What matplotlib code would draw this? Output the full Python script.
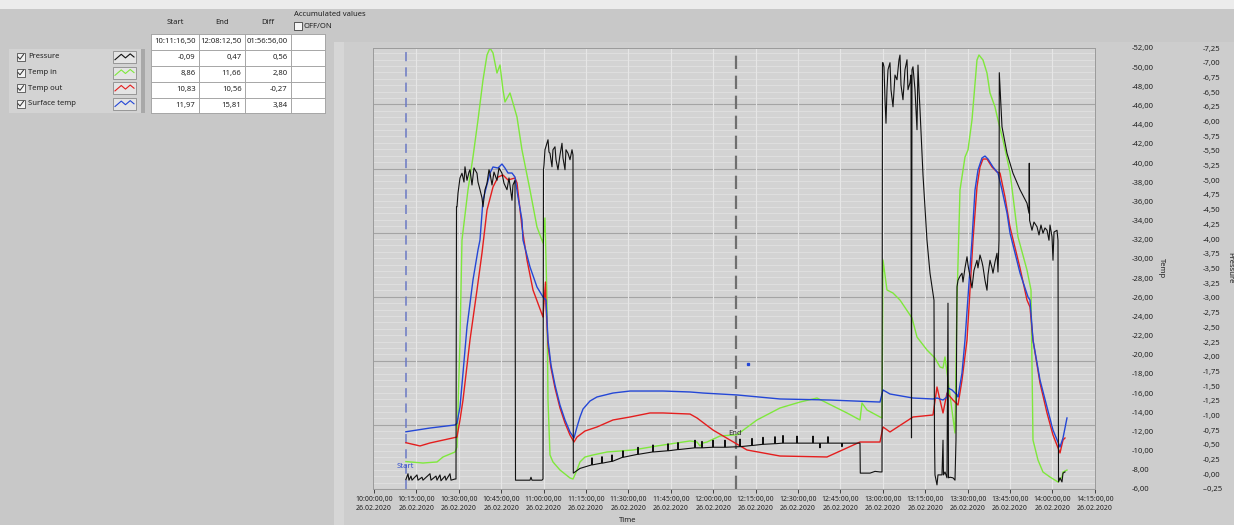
import numpy as np
import matplotlib
matplotlib.use("Agg")
import matplotlib.pyplot as plt
from matplotlib.patches import Rectangle

plt.rcParams['font.family'] = ['Noto Sans', 'DejaVu Sans']

# ---------------- data ----------------
x_tick_minutes = [0, 15, 30, 45, 60, 75, 90, 105, 120, 135, 150, 165, 180, 195, 210, 225, 240, 255]
x_tick_times = ["10:00:00,00", "10:15:00,00", "10:30:00,00", "10:45:00,00", "11:00:00,00",
                "11:15:00,00", "11:30:00,00", "11:45:00,00", "12:00:00,00", "12:15:00,00",
                "12:30:00,00", "12:45:00,00", "13:00:00,00", "13:15:00,00", "13:30:00,00",
                "13:45:00,00", "14:00:00,00", "14:15:00,00"]
x_tick_date = "26.02.2020"
temp_ticks = list(range(6, 53, 2))
pressure_ticks = [i * 0.25 - 0.25 for i in range(31)]

start_cursor_min = 11 + 16.5 / 60
end_cursor_min = 128 + 12.5 / 60

legend_names = ["Pressure", "Temp in", "Temp out", "Surface temp"]
table_header = ["Start", "End", "Diff"]
cursor_times = ["10:11:16,50", "12:08:12,50", "01:56:56,00"]
start_vals = ["-0,09", "8,86", "10,83", "11,97"]
end_vals = ["0,47", "11,66", "10,56", "15,81"]
diff_vals = ["0,56", "2,80", "-0,27", "3,84"]

# minutes after 10:00 / degrees
surface_t = [11.28, 19.81, 28.66, 29.36, 30.42, 31.49, 32.90, 35.02, 36.79, 37.50, 38.56, 41.04,
             42.10, 43.87, 45.28, 46.34, 47.41, 48.82, 49.88, 50.94, 52.36, 52.71, 55.19, 57.66,
             59.79, 60.85, 61.56, 62.62, 64.03, 65.80, 67.57, 69.34, 70.75, 71.82, 72.88, 73.94,
             76.42, 78.89, 84.55, 90.57, 102.24, 111.79, 116.39, 128.42, 143.63, 161.32, 179.01,
             180.07, 182.54, 190.68, 197.76, 199.17, 201.30, 202.71, 203.06, 204.48, 206.25,
             206.60, 208.02, 209.08, 211.55, 212.62, 213.67, 215.09, 216.15, 217.21, 218.98,
             220.75, 222.17, 223.94, 225.00, 228.54, 231.37, 232.07, 233.13, 235.61, 238.09,
             240.21, 242.69, 243.75, 245.16]
surface_v = [11.97, 12.36, 12.68, 12.85, 14.55, 18.10, 22.90, 27.80, 30.93, 31.97, 36.14, 38.96,
             39.59, 39.48, 39.90, 39.48, 38.96, 38.96, 38.54, 36.46, 34.06, 31.97, 29.16, 27.07,
             26.03, 25.71, 21.54, 18.93, 16.85, 14.76, 13.20, 11.95, 11.32, 12.47, 13.51, 14.34,
             15.18, 15.60, 16.01, 16.22, 16.22, 16.12, 16.01, 15.81, 15.39, 15.28, 15.07,
             16.33, 15.91, 15.49, 15.39, 15.49, 15.28, 15.60, 16.54, 16.33, 15.81,
             15.60, 18.10, 21.54, 31.97, 37.19, 39.27, 40.53, 40.73, 40.42, 39.59,
             38.96, 37.19, 34.79, 32.70, 28.53, 26.03, 25.71, 21.54, 17.37, 14.55,
             12.15, 10.38, 11.32, 13.41]
surface_outlier_t = [132.31]
surface_outlier_v = [19.04]

tout_t = [11.28, 16.27, 19.81, 29.36, 30.42, 31.49, 33.96, 36.44, 38.21, 39.98, 42.10, 43.87,
          45.64, 47.41, 49.88, 50.59, 52.36, 54.13, 56.25, 59.79, 60.67, 60.85, 61.56, 62.62,
          64.03, 65.80, 67.57, 69.34, 70.75, 71.82, 74.65, 78.89, 84.55, 90.57, 97.64, 102.24,
          111.79, 114.27, 119.93, 125.94, 131.96, 143.63, 160.26, 171.93, 179.01, 180.07,
          182.54, 190.68, 197.76, 199.17, 200.23, 201.30, 202.71, 204.83, 206.60, 208.02,
          209.79, 211.91, 213.32, 214.38, 215.44, 216.86, 218.63, 220.40, 221.46, 223.23,
          225.00, 228.54, 231.01, 232.07, 233.13, 235.61, 238.09, 240.21, 242.69, 243.75, 244.45]
tout_v = [10.83, 10.49, 10.80, 11.42, 13.20, 15.28, 21.54, 26.76, 30.62, 35.10, 37.50, 38.54,
          38.75, 38.23, 38.44, 37.92, 33.33, 29.89, 26.76, 23.94, 27.59, 25.19, 21.02, 18.62,
          16.54, 14.45, 12.88, 11.63, 10.90, 11.42, 12.05, 12.47, 13.20, 13.51, 13.93, 13.93,
          13.82, 13.41, 12.15, 11.11, 10.07, 9.44, 9.34, 10.90, 10.90, 12.47,
          11.95, 13.51, 13.72, 16.64, 15.28, 13.93, 16.01, 15.28, 14.76, 17.37,
          21.54, 31.97, 37.50, 39.59, 40.42, 40.42, 39.59, 39.07, 38.96, 36.46,
          33.33, 29.05, 25.71, 24.98, 21.54, 17.06, 13.93, 11.63, 9.76, 11.11, 11.32]

tin_t = [11.28, 17.33, 22.29, 24.41, 28.66, 29.36, 30.42, 31.13, 33.25, 35.02, 36.79, 38.56,
         39.98, 41.04, 42.10, 43.51, 44.58, 45.64, 46.34, 48.11, 49.17, 50.59, 52.36, 55.19,
         57.66, 59.79, 60.49, 61.20, 61.56, 62.26, 63.32, 65.80, 69.34, 70.40, 71.82, 72.88,
         74.65, 77.48, 82.43, 91.63, 100.12, 111.79, 114.27, 115.33, 116.39, 117.81, 122.40,
         128.42, 135.49, 143.63, 150.71, 156.72, 160.26, 167.33, 171.93, 172.64, 174.41,
         179.01, 179.72, 180.07, 181.48, 183.61, 186.08, 190.33, 192.10, 195.63, 198.46,
         200.23, 201.30, 202.00, 203.06, 205.54, 206.25, 207.31, 209.08, 210.14, 211.55,
         213.32, 214.03, 215.44, 216.86, 217.92, 219.69, 220.75, 222.52, 225.00, 227.83,
         231.01, 232.43, 233.13, 234.90, 236.67, 239.15, 241.98, 243.39, 243.75, 245.16]
tin_v = [8.86, 8.71, 8.82, 9.34, 9.86, 10.38, 21.54, 31.97, 37.19, 40.63, 44.49, 48.66,
         51.27, 52.00, 51.48, 49.39, 50.23, 47.62, 46.37, 47.31, 46.26, 44.80, 41.36, 37.19,
         33.33, 31.66, 34.27, 25.71, 15.28, 9.55, 8.82, 7.98, 7.15, 7.04, 7.98, 8.82,
         9.34, 9.55, 9.86, 10.07, 10.49, 11.01, 10.90, 10.49, 10.80, 10.90, 11.53,
         11.66, 13.20, 14.45, 15.07, 15.49, 14.97, 13.93, 13.20, 14.97, 14.24,
         13.51, 13.41, 29.89, 26.76, 26.44, 25.71, 23.84, 21.85, 20.50, 19.66,
         18.73, 18.62, 19.77, 17.37, 11.84, 25.71, 37.19, 40.63, 41.36, 44.49,
         50.75, 51.27, 50.75, 49.39, 47.31, 45.85, 44.49, 42.40, 39.07, 32.29,
         28.84, 26.76, 11.11, 9.02, 7.77, 7.25, 6.73, 7.25, 7.77, 7.98]

pressure_t = [11.28, 12.03, 12.38, 13.09, 13.44, 15.21, 15.57, 16.98, 17.33, 19.81, 20.16, 21.93,
              22.29, 23.35, 23.70, 25.12, 25.47, 26.89, 27.24, 28.66, 29.01, 29.19,
              29.36, 29.72, 30.42, 31.13, 31.84, 32.19, 32.90, 33.61, 33.96, 34.67, 35.38, 36.44,
              36.79, 37.50, 38.21, 38.56, 39.27, 39.98, 40.68, 41.04, 41.75, 42.45, 43.51, 44.22,
              45.28, 45.99, 47.05, 47.76, 48.82, 49.17, 49.88, 50.06,
              50.59, 55.19, 55.54, 55.90, 59.43, 59.79, 59.96,
              60.14, 60.49, 61.20, 61.56, 61.91, 62.26, 62.97, 63.32, 64.03, 64.39, 65.09, 65.80,
              66.51, 66.86, 67.57, 67.92, 68.63, 69.34, 70.05, 70.40, 70.51,
              71.11, 72.88, 76.98, 77.12, 77.26, 80.52, 80.66, 80.80, 84.06, 84.20, 84.34,
              87.95, 88.09, 88.23, 93.26, 93.40, 93.54, 98.56, 98.70, 98.84, 103.87, 104.01,
              104.15, 107.41, 107.55, 107.69, 113.42, 113.56, 113.70, 115.90, 116.04, 116.18,
              119.79, 119.93, 120.07, 124.03, 124.17, 124.31, 129.34, 129.48, 129.62, 133.59,
              133.73, 133.87, 137.48, 137.62, 137.76, 141.72, 141.86, 142.00, 144.55, 144.69,
              144.83, 149.50, 149.64, 149.78, 155.17, 155.31, 155.45, 157.64, 157.78, 157.92,
              160.47, 160.61, 160.75, 165.42, 165.56, 165.70, 171.93,
              172.04, 175.48, 177.24, 179.01, 179.72, 179.89,
              180.07, 180.42, 180.78, 181.13, 181.48, 181.84, 182.54, 182.90, 183.61, 184.31,
              185.02, 185.73, 186.08, 186.44, 187.14, 187.85, 188.56, 188.91, 189.62, 189.97,
              190.15, 190.33, 190.68, 191.39, 192.10, 192.45, 192.80, 193.16, 194.22, 195.63,
              196.70, 197.76, 198.11, 198.29, 198.46, 199.17, 199.52, 200.94, 201.30, 201.47,
              202.00, 202.71, 203.06, 203.24, 203.77, 204.83, 205.54, 205.89, 206.25, 206.60,
              207.31, 208.02, 208.37, 209.08, 209.79, 210.14, 210.85, 211.55, 212.26, 213.32,
              213.67, 214.38, 215.09, 215.44, 216.15, 216.86, 217.21, 217.92, 218.63, 218.98,
              219.69, 220.40, 220.75, 221.11, 221.21, 222.17, 223.94, 226.06, 228.54, 231.01,
              231.72, 231.82, 231.93, 232.78, 233.48, 234.55, 235.26, 235.96, 236.67, 237.38,
              238.09, 238.79, 239.15, 239.86, 240.21, 240.57, 241.63, 241.98, 242.16, 242.69,
              243.39, 243.75, 244.45]
pressure_v = [-0.09, 0.01, -0.10, -0.03, -0.10, -0.01, -0.10, -0.05, -0.10, 0.01, -0.10, -0.03,
              -0.10, -0.01, -0.11, -0.03, -0.10, 0.01, -0.10, -0.08, -0.08, 4.55,
              4.55, 4.78, 5.04, 5.12, 4.97, 5.23, 5.00, 5.14, 5.18, 4.92, 5.21, 5.12,
              4.97, 4.84, 4.70, 4.55, 4.84, 4.95, 5.18, 5.12, 4.92, 5.14, 5.00, 5.21,
              5.12, 4.95, 4.84, 5.04, 4.66, 4.92, 5.00, -0.10,
              -0.10, -0.10, -0.05, -0.10, -0.10, -0.08, 5.18,
              5.26, 5.52, 5.63, 5.69, 5.48, 5.46, 5.23, 5.52, 5.57, 5.35, 5.18, 5.43,
              5.63, 5.38, 5.18, 5.52, 5.46, 5.35, 5.52, 5.43, 0.02,
              0.04, 0.10, 0.16, 0.28, 0.16, 0.19, 0.30, 0.19, 0.22, 0.33, 0.22,
              0.29, 0.40, 0.29, 0.34, 0.46, 0.34, 0.38, 0.50, 0.38, 0.40, 0.52,
              0.40, 0.42, 0.54, 0.42, 0.45, 0.58, 0.45, 0.45, 0.56, 0.45,
              0.46, 0.58, 0.46, 0.46, 0.58, 0.46, 0.47, 0.60, 0.47, 0.49,
              0.61, 0.49, 0.51, 0.63, 0.51, 0.52, 0.64, 0.52, 0.53, 0.66,
              0.53, 0.53, 0.65, 0.53, 0.53, 0.65, 0.53, 0.53, 0.45, 0.53,
              0.53, 0.64, 0.53, 0.53, 0.47, 0.53, 0.53,
              0.02, 0.02, 0.05, 0.04, 0.04, 7.00,
              7.00, 6.93, 6.37, 5.97, 6.54, 6.88, 7.00, 6.54, 6.25, 6.79,
              6.71, 7.05, 7.13, 6.62, 6.37, 6.88, 7.05, 6.54, 6.66, 6.79,
              0.62, 6.88, 6.93, 6.54, 5.86, 6.96, 6.54, 6.20, 5.09, 3.98,
              3.42, 3.08, 2.96, 0.58, -0.01, -0.18, -0.01, -0.01, 0.58, -0.01,
              0.04, -0.06, 2.91, -0.06, -0.05, -0.06, -0.10, 0.58, 3.19, 3.30,
              3.37, 3.42, 3.27, 3.51, 3.70, 3.56, 3.36, 3.17, 3.47, 3.64,
              3.51, 3.73, 3.61, 3.53, 3.30, 3.13, 3.39, 3.64, 3.51, 3.42,
              3.61, 3.76, 3.44, 3.98, 6.83, 5.91, 5.46, 5.12, 4.84, 4.61,
              4.44, 5.29, 4.32, 4.15, 4.29, 4.21, 4.07, 4.24, 4.10, 4.19,
              4.15, 3.98, 4.24, 4.04, 3.64, 4.12, 4.15, 3.98, -0.13, -0.06,
              -0.13, 0.02, 0.04]

colors = {"Pressure": "#111111", "Temp in": "#7fe83c", "Temp out": "#e41e1e", "Surface temp": "#2447d6"}

# ---------------- figure ----------------
W, H = 1234, 525
fig = plt.figure(figsize=(W / 100, H / 100), dpi=100, facecolor="#c8c8c8")

bg = fig.add_axes([0, 0, 1, 1], zorder=0)
bg.set_xlim(0, W)
bg.set_ylim(H, 0)
bg.axis("off")

def rect(x0, y0, x1, y1, fc, ec="none", lw=0.0, z=1):
    bg.add_patch(Rectangle((x0, y0), x1 - x0, y1 - y0, facecolor=fc, edgecolor=ec, linewidth=lw, zorder=z))

FS = 5.5
TXT = "#222222"

# top light strip and chart panel
rect(0, 0, W, 9, "#ececec")
rect(334, 42, W, H, "#cdcdcd")
rect(334, 42, 344, H, "#d6d6d6")

# legend panel
rect(9, 49, 145, 113, "#d3d3d3")
rect(141, 49, 145, 113, "#a8a8a8")
zig_x = np.array([0.0, 0.33, 0.55, 0.8, 1.0])
zig_y = np.array([0.8, 0.2, 0.6, 0.15, 0.5])
for i, name in enumerate(legend_names):
    yc = 57 + i * 15.6
    rect(16.5, yc - 4, 24.5, yc + 4, "#f2f2f2", "#505050", 0.6, z=2)
    bg.plot([18, 20, 23.5], [yc, yc + 2.2, yc - 2.5], color="#303030", lw=0.7, zorder=3)
    bg.text(28.5, yc, name, fontsize=FS, color=TXT, va="center", ha="left", zorder=3)
    rect(113, yc - 6, 136, yc + 6, "#e4e4e4", "#8c8c8c", 0.6, z=2)
    bg.plot(115 + zig_x * 19, yc - 4.5 + zig_y * 9, color=colors[name], lw=0.8, zorder=3)

# table
col_edges = [151, 199, 245, 291, 325]
row_edges = [34, 50, 66, 82, 98, 113]
rect(col_edges[0], row_edges[0], col_edges[-1], row_edges[-1], "#ffffff", z=2)
for xe in col_edges:
    bg.plot([xe, xe], [row_edges[0], row_edges[-1]], color="#a6a6a6", lw=0.7, zorder=3)
for ye in row_edges:
    bg.plot([col_edges[0], col_edges[-1]], [ye, ye], color="#a6a6a6", lw=0.7, zorder=3)
for j, hname in enumerate(table_header):
    bg.text((col_edges[j] + col_edges[j + 1]) / 2, 22.5, hname, fontsize=FS, color=TXT,
            ha="center", va="center", zorder=3)
columns = [[cursor_times[0]] + start_vals, [cursor_times[1]] + end_vals, [cursor_times[2]] + diff_vals]
for j, col in enumerate(columns):
    for r, val in enumerate(col):
        yc = (row_edges[r] + row_edges[r + 1]) / 2
        bg.text(col_edges[j + 1] - 3.5, yc, val, fontsize=FS, color=TXT, ha="right", va="center", zorder=4)
bg.text(294, 14.5, "Accumulated values", fontsize=FS, color=TXT, ha="left", va="center", zorder=3)
rect(294, 22, 301.5, 29.5, "#f6f6f6", "#404040", 0.6, z=3)
bg.text(303, 26, "OFF/ON", fontsize=FS, color=TXT, ha="left", va="center", zorder=3)

# ---------------- chart ----------------
px_l, px_r, px_t, px_b = 373, 1095, 48, 489
ax = fig.add_axes([px_l / W, 1 - px_b / H, (px_r - px_l) / W, (px_b - px_t) / H], zorder=2)
ax.set_facecolor("#d3d3d3")
ax2 = ax.twinx()

ax.set_xlim(-0.35, 255.07)
ax.set_ylim(6, 52)
ax2.set_ylim(-0.25, 7.25)

# grid
major_step = 64.1 / (px_b - px_t)
minor = np.arange(0, 1.0001, major_step / 10)
ax.hlines(minor, 0, 1, transform=ax.transAxes, color="#e1e1e1", lw=0.6, zorder=0.5)
major = np.arange(0, 1.0001, major_step)
ax.hlines(major, 0, 1, transform=ax.transAxes, color="#a4a4a4", lw=0.8, zorder=0.6)
for m in x_tick_minutes[1:-1]:
    ax.axvline(m, color="#e6e6e6", lw=0.8, zorder=0.7)

# cursors
ax.axvline(start_cursor_min, color="#6b79c4", lw=1.1, ls=(0, (6, 4)), zorder=1)
ax.axvline(end_cursor_min, color="#6f6f6f", lw=1.6, ls=(0, (6, 3)), zorder=1)

lw = 1.0
ax.plot(tin_t, tin_v, color=colors["Temp in"], lw=lw, zorder=2)
ax.plot(tout_t, tout_v, color=colors["Temp out"], lw=lw, zorder=3)
ax.plot(surface_t, surface_v, color=colors["Surface temp"], lw=lw, zorder=4)
ax.plot(surface_outlier_t, surface_outlier_v, ls="none", marker="s", ms=1.4, color=colors["Surface temp"], zorder=4)
ax2.plot(pressure_t, pressure_v, color=colors["Pressure"], lw=0.8, zorder=2)

ax.text(start_cursor_min - 3.2, 8.3, "Start", fontsize=FS, color="#3550cc", ha="left", va="center", zorder=5)
ax.text(end_cursor_min - 2.9, 11.75, "End", fontsize=FS, color="#303030", ha="left", va="center", zorder=5)

# spines
for a in (ax, ax2):
    for s in a.spines.values():
        s.set_color("#9c9c9c")
        s.set_linewidth(0.7)

# x ticks
ax.set_xticks(x_tick_minutes)
ax.set_xticklabels([f"{t}\n{x_tick_date}" for t in x_tick_times], fontsize=5.0, color=TXT)
ax.tick_params(axis="x", direction="out", length=3, width=0.7, color="#404040", pad=2)
for lab in ax.get_xticklabels():
    lab.set_linespacing(1.45)

# y ticks (both on the right)
def neg_fmt(v):
    return "-" + f"{v:.2f}".replace(".", ",")

ax.yaxis.tick_right()
ax.set_yticks(temp_ticks)
ax.set_yticklabels([neg_fmt(v) for v in temp_ticks], fontsize=FS, color=TXT)
ax.tick_params(axis="y", length=0, pad=26.6)

ax2.set_yticks(pressure_ticks)
ax2.set_yticklabels([neg_fmt(v) for v in pressure_ticks], fontsize=FS, color=TXT)
ax2.tick_params(axis="y", length=0, pad=77.5)

fig.text(628 / W, 1 - 521 / H, "Time", fontsize=FS, color=TXT, ha="center", va="center")
fig.text(1161 / W, 1 - 268 / H, "Temp", fontsize=FS, color=TXT, ha="center", va="center", rotation=270)
fig.text(1230 / W, 1 - 268 / H, "Pressure", fontsize=FS, color=TXT, ha="center", va="center", rotation=270)

fig.savefig("out.png", dpi=100, facecolor=fig.get_facecolor())
